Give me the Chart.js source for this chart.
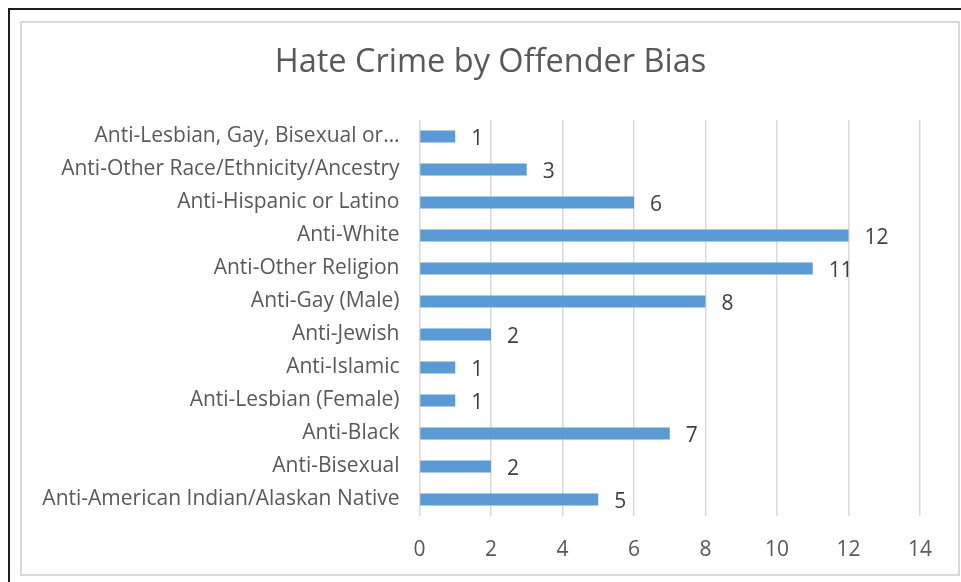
<!DOCTYPE html>
<html>
<head>
<meta charset="utf-8">
<script src="https://cdn.jsdelivr.net/npm/chart.js@4.4.1/dist/chart.umd.min.js"></script>
<style>
    html, body { margin: 0; padding: 0; background: #fff; }
    #wrap { position: relative; width: 961px; height: 582px; overflow: hidden; }
    #outer { position: absolute; left: 8px; top: 8px; width: 980px; height: 600px;
             border-left: 2px solid #1e1e1e; border-top: 2px solid #1e1e1e; }
    #inner { position: absolute; left: 20px; top: 21px; width: 936px; height: 551px;
             border: 2px solid #d9d9d9; }
    canvas { position: absolute; left: 0; top: 0; }
</style>
</head>
<body>
<div id="wrap">
    <div id="outer"></div>
    <div id="inner"></div>
    <canvas id="chart" width="961" height="582"></canvas>
</div>
<script>
// ---- data ---- //
const categories = [
    "Anti-Lesbian, Gay, Bisexual or\u2026",
    "Anti-Other Race/Ethnicity/Ancestry",
    "Anti-Hispanic or Latino",
    "Anti-White",
    "Anti-Other Religion",
    "Anti-Gay (Male)",
    "Anti-Jewish",
    "Anti-Islamic",
    "Anti-Lesbian (Female)",
    "Anti-Black",
    "Anti-Bisexual",
    "Anti-American Indian/Alaskan Native"
];
const counts = [1, 3, 6, 12, 11, 8, 2, 1, 1, 7, 2, 5];
const xTicks = [0, 2, 4, 6, 8, 10, 12, 14];

const FONT = "'Open Sans', Lato, 'Liberation Sans', sans-serif";

// ---- value labels at bar ends ---- //
const barLabels = {
    id: "barLabels",
    afterLayout(chart) {
        // centre the title over the whole chart frame, like Excel does
        chart.titleBlock.left = 61;
    },
    afterDatasetsDraw(chart) {
        const ctx = chart.ctx;
        const meta = chart.getDatasetMeta(0);
        ctx.save();
        ctx.font = "21px " + FONT;
        ctx.fillStyle = "#404040";
        ctx.textAlign = "left";
        ctx.textBaseline = "middle";
        meta.data.forEach((bar, i) => {
            ctx.fillText(String(counts[i]), bar.x + 16, bar.y + 3);
        });
        ctx.restore();
    }
};

const ctx = document.getElementById("chart");
new Chart(ctx, {
    type: "bar",
    data: {
        labels: categories,
        datasets: [{
            data: counts,
            backgroundColor: "#5b9bd5",
            barPercentage: 0.37,
            categoryPercentage: 1.0
        }]
    },
    options: {
        indexAxis: "y",
        responsive: false,
        animation: false,
        layout: { padding: { left: 30, right: 41, top: 22, bottom: 20 } },
        plugins: {
            legend: { display: false },
            tooltip: { enabled: false },
            title: {
                display: true,
                text: "Hate Crime by Offender Bias",
                color: "#595959",
                font: { family: FONT, size: 32.5, weight: "normal" },
                padding: { top: 21, bottom: 38 }
            }
        },
        scales: {
            x: {
                min: 0,
                max: 14,
                afterBuildTicks(axis) {
                    axis.ticks = xTicks.map(v => ({ value: v }));
                },
                afterFit(axis) { axis.height = 46; },
                grid: { color: "#d9d9d9", lineWidth: 1.5, drawTicks: false },
                border: { display: false },
                ticks: {
                    color: "#595959",
                    padding: 21,
                    font: { family: FONT, size: 21 }
                }
            },
            y: {
                grid: { display: false, drawTicks: false },
                border: { display: false },
                afterFit(axis) {
                    axis.width = 389.5;
                    axis.paddingTop = 0;
                    axis.paddingBottom = 0;
                },
                ticks: {
                    color: "#595959",
                    padding: 20,
                    autoSkip: false,
                    font: { family: FONT, size: 21 }
                }
            }
        }
    },
    plugins: [barLabels]
});
</script>
</body>
</html>
